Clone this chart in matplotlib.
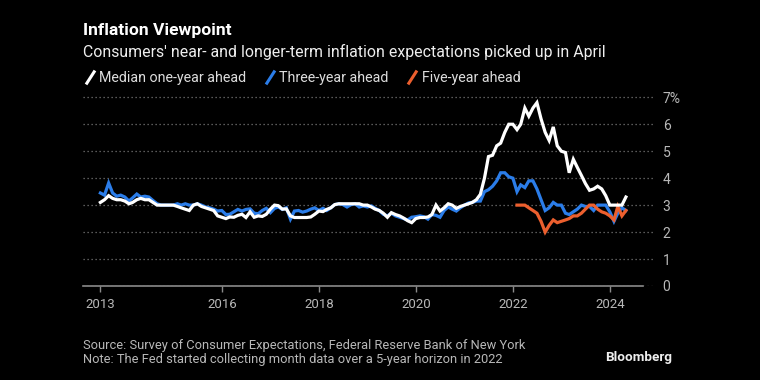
import matplotlib
matplotlib.use('Agg')
import matplotlib.pyplot as plt
from matplotlib.lines import Line2D
from matplotlib.path import Path
import pandas as pd

plt.rcParams['font.family'] = ['Roboto', 'DejaVu Sans']

# monthly, Jun 2013 .. Apr 2024
one_year = [
    3.1, 3.2, 3.35, 3.25, 3.2, 3.2, 3.15,
    3.05, 3.1, 3.2, 3.25, 3.2, 3.2, 3.1, 3.0, 3.0, 3.0, 3.0, 3.0,
    2.95, 2.9, 2.85, 2.8, 3.0, 3.05, 2.95, 2.9, 2.85, 2.8, 2.6, 2.55,
    2.5, 2.56, 2.55, 2.62, 2.66, 2.54, 2.75, 2.55, 2.6, 2.58, 2.66, 2.85,
    3.0, 2.98, 2.85, 2.86, 2.6, 2.54, 2.54, 2.54, 2.54, 2.56, 2.66, 2.78,
    2.76, 2.84, 2.9, 3.02, 3.05, 3.05, 3.05, 3.05, 3.05, 3.05, 3.0, 3.0,
    2.93, 2.85, 2.8, 2.7, 2.55, 2.72, 2.65, 2.6, 2.52, 2.42, 2.35, 2.5,
    2.54, 2.54, 2.56, 2.65, 3.0, 2.78, 2.9, 3.05, 3.0, 2.88, 2.95, 3.0,
    3.05, 3.1, 3.2, 3.4, 4.0, 4.8, 4.85, 5.2, 5.3, 5.7, 6.0, 6.0,
    5.8, 6.0, 6.6, 6.3, 6.6, 6.8, 6.2, 5.7, 5.4, 5.9, 5.2, 5.0,
    4.95, 4.2, 4.7, 4.4, 4.1, 3.8, 3.55, 3.6, 3.7, 3.6, 3.35, 3.0,
    3.0, 3.0, 3.0, 3.3,
]
three_year = [
    3.45, 3.37, 3.82, 3.45, 3.33, 3.37, 3.3,
    3.15, 3.27, 3.41, 3.3, 3.33, 3.3, 3.17, 3.05, 3.0, 3.0, 3.0, 3.0,
    3.05, 3.0, 3.05, 3.0, 3.0, 3.05, 3.0, 2.93, 2.9, 2.85, 2.78, 2.8,
    2.65, 2.66, 2.75, 2.84, 2.78, 2.84, 2.86, 2.7, 2.68, 2.8, 2.88, 2.72,
    2.88, 2.93, 2.84, 2.9, 2.48, 2.78, 2.8, 2.74, 2.78, 2.85, 2.9, 2.8,
    2.88, 2.8, 2.9, 3.02, 3.05, 3.02, 2.93, 3.02, 3.05, 2.93, 2.97, 2.93,
    2.97, 2.88, 2.8, 2.66, 2.6, 2.7, 2.6, 2.55, 2.5, 2.45, 2.55, 2.57,
    2.6, 2.57, 2.48, 2.65, 2.62, 2.55, 2.8, 2.93, 2.85, 2.78, 2.9, 3.0,
    3.08, 3.1, 3.15, 3.15, 3.5, 3.57, 3.7, 3.9, 4.2, 4.2, 4.05, 4.0,
    3.5, 3.75, 3.65, 3.9, 3.9, 3.6, 3.2, 2.8, 2.9, 3.1, 3.0, 3.0,
    2.7, 2.65, 2.75, 2.85, 3.0, 2.95, 2.95, 2.8, 3.0, 3.0, 3.0, 2.75,
    2.4, 2.7, 2.9, 2.8,
]
# monthly, Jan 2022 .. Apr 2024
five_year = [
    3.0, 3.0, 3.0, 2.9, 2.8, 2.7, 2.4, 2.0, 2.25, 2.45, 2.35, 2.4,
    2.45, 2.5, 2.6, 2.6, 2.7, 2.85, 3.0, 3.0, 2.85, 2.75, 2.7, 2.6,
    2.45, 2.95, 2.6, 2.8,
]
tick_years = ['2013', '2016', '2018', '2020', '2022', '2024']
y_labels = ['0', '1', '2', '3', '4', '5', '6', '7%']

WHITE = '#ffffff'
BLUE = '#2b7de9'
ORANGE = '#ec5f2e'
GREY = '#b8b8b8'

months = pd.date_range('2013-06-01', periods=len(one_year), freq='MS') + pd.offsets.MonthEnd(0)
months5 = pd.date_range('2022-01-01', periods=len(five_year), freq='MS') + pd.offsets.MonthEnd(0)

fig = plt.figure(figsize=(7.6, 3.8), dpi=100, facecolor='black')
ax = fig.add_axes([83 / 760, 0.2474, 570 / 760, 0.5037], facecolor='black')

ax.plot(months, three_year, color=BLUE, lw=2.3, solid_joinstyle='miter', zorder=3)
ax.plot(months5, five_year, color=ORANGE, lw=2.3, solid_joinstyle='miter', zorder=4)
ax.plot(months, one_year, color=WHITE, lw=2.3, solid_joinstyle='miter', zorder=5)

ax.set_xlim(pd.Timestamp('2013-02-19'), pd.Timestamp('2024-11-20'))
ax.set_ylim(0, 7.1)

for s in ax.spines.values():
    s.set_visible(False)

ax.set_yticks(range(8))
ax.set_yticklabels(y_labels)
ax.yaxis.tick_right()
ax.tick_params(axis='y', length=0, pad=7, labelsize=10, labelcolor=GREY)
ax.grid(axis='y', color='#777777', lw=0.9, linestyle=(0, (1, 2.2)))

xt = [months[0]] + [pd.Timestamp(f'{y}-01-01') for y in tick_years[1:]]
ax.set_xticks(xt)
ax.set_xticklabels(tick_years)
ax.tick_params(axis='x', length=4, width=1, color='#8a8a8a', pad=5,
               labelsize=9.5, labelcolor=GREY)
ax.axhline(0, xmin=0, xmax=560 / 570, color='#8a8a8a', lw=1.2, clip_on=False, zorder=2)

fig.text(83 / 760, 1 - 30 / 380, 'Inflation Viewpoint', color=WHITE, fontsize=12.6,
         fontweight='bold', va='center', ha='left')
fig.text(83 / 760, 1 - 52 / 380,
         "Consumers' near- and longer-term inflation expectations picked up in April",
         color='#eeeeee', fontsize=11.4, va='center', ha='left')

slash = Path([(-0.45, -0.7), (0.45, 0.7)])
handles = [Line2D([], [], color=c, marker=slash, markersize=10, markeredgewidth=2.2,
                  linestyle='None') for c in (WHITE, BLUE, ORANGE)]
fig.legend(handles, ['Median one-year ahead', 'Three-year ahead', 'Five-year ahead'],
           loc='center left', bbox_to_anchor=(85 / 760, 1 - 78 / 380), ncol=3,
           frameon=False, handlelength=0.7, handletextpad=0.3, columnspacing=1.3,
           borderpad=0, borderaxespad=0, labelcolor='#dddddd', fontsize=10.3)

fig.text(83 / 760, 1 - 346 / 380,
         'Source: Survey of Consumer Expectations, Federal Reserve Bank of New York',
         color=GREY, fontsize=9.3, va='center', ha='left')
fig.text(83 / 760, 1 - 360 / 380,
         'Note: The Fed started collecting month data over a 5-year horizon in 2022',
         color=GREY, fontsize=9.3, va='center', ha='left')
fig.text(672 / 760, 1 - 358 / 380, 'Bloomberg', color='#eeeeee', fontsize=9.7,
         fontweight='bold', va='center', ha='right')

fig.savefig('out.png', dpi=100, facecolor='black')
